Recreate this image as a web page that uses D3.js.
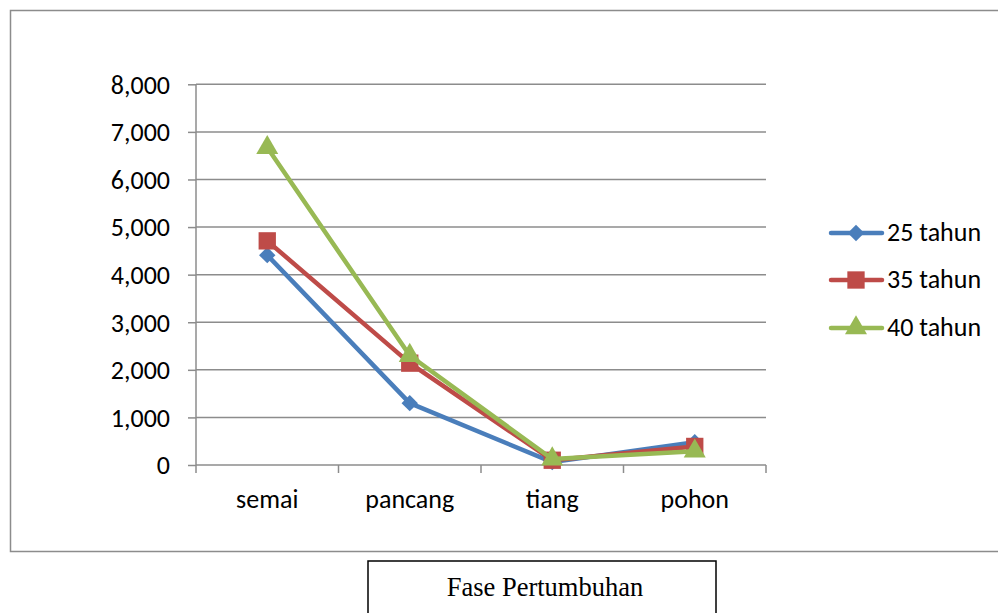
<!DOCTYPE html>
<html><head><meta charset="utf-8">
<script src="https://cdn.jsdelivr.net/npm/d3@7/dist/d3.min.js"></script>
<style>body{margin:0;background:#fff}svg{display:block}</style>
</head><body><svg id="c" width="998" height="613"></svg>
<script>
const categories = ["semai", "pancang", "tiang", "pohon"];
const seriesNames = ["25 tahun", "35 tahun", "40 tahun"];
const v25 = [4410, 1300, 60, 480];
const v35 = [4710, 2140, 100, 390];
const v40 = [6670, 2300, 125, 290];
const yTicks = [0, 1000, 2000, 3000, 4000, 5000, 6000, 7000, 8000];
const colors = ["#4A7EBB", "#BE4B48", "#98B954"];
const xTitle = "Fase Pertumbuhan";

const diamond = { draw(ctx, size) { const r = Math.sqrt(size / 2); ctx.moveTo(0, -r); ctx.lineTo(r, 0); ctx.lineTo(0, r); ctx.lineTo(-r, 0); ctx.closePath(); } };
const markers = [diamond, d3.symbolSquare, d3.symbolTriangle];
const sizes = [135, 300, 210];

const series = [v25, v35, v40].map((vals, i) => ({name: seriesNames[i], vals, color: colors[i], sym: markers[i]}));
const svg = d3.select("#c");
const font = "Carlito, Calibri, 'Open Sans', sans-serif";
const fs = 26;

// outer frame
svg.append("path").attr("d", "M1000,10.5 H10.5 V551.5 H1000").attr("fill", "none").attr("stroke", "#8c8c8c").attr("stroke-width", 1.5);

const L = 196, R = 766, T = 84.3, B = 465;
const x = d3.scaleBand().domain(categories).range([L, R]).padding(0);
const y = d3.scaleLinear().domain([0, 8000]).range([B, T]);

// gridlines
svg.append("g").selectAll("line").data(yTicks.filter(t => t > 0)).join("line")
  .attr("x1", L).attr("x2", R).attr("y1", d => y(d)).attr("y2", d => y(d))
  .attr("stroke", "#8c8c8c").attr("stroke-width", 1.5);

// y axis
const yAxis = svg.append("g").attr("transform", `translate(${L},0)`)
  .call(d3.axisLeft(y).tickValues(yTicks).tickSize(8).tickPadding(18).tickFormat(d3.format(",")));
yAxis.select(".domain").attr("stroke", "#8c8c8c").attr("stroke-width", 1.5).attr("d", `M0,${T}V${B}`);
yAxis.selectAll(".tick line").attr("stroke", "#8c8c8c").attr("stroke-width", 1.5);
yAxis.selectAll("text").attr("font-family", font).attr("font-size", fs).attr("fill", "#000").attr("dy", "0.34em");

// x axis
const xAxis = svg.append("g").attr("transform", `translate(0,${B})`)
  .call(d3.axisBottom(x).tickSize(0).tickPadding(25));
xAxis.select(".domain").attr("stroke", "#8c8c8c").attr("stroke-width", 1.5).attr("d", `M${L},0H${R}`);
xAxis.selectAll("text").attr("font-family", font).attr("font-size", fs).attr("fill", "#000");
const bounds = [...categories.map(c => x(c)), R];
svg.append("g").selectAll("line").data(bounds).join("line")
  .attr("x1", d => d).attr("x2", d => d).attr("y1", B).attr("y2", B + 8)
  .attr("stroke", "#8c8c8c").attr("stroke-width", 1.5);

const cx = c => x(c) + x.bandwidth() / 2;
const line = d3.line().x((d, i) => cx(categories[i])).y(d => y(d));

series.forEach((s, si) => {
  const g = svg.append("g");
  g.append("path").attr("d", line(s.vals)).attr("fill", "none").attr("stroke", s.color)
    .attr("stroke-width", 4.5).attr("stroke-linejoin", "round").attr("stroke-linecap", "round");
  g.selectAll("path.m").data(s.vals).join("path").attr("class", "m")
    .attr("transform", (d, i) => `translate(${cx(categories[i])},${y(d)})`)
    .attr("d", d3.symbol().type(s.sym).size(sizes[si])).attr("fill", s.color);
});

// legend
const legY = [233, 280, 328];
series.forEach((s, i) => {
  const g = svg.append("g").attr("transform", `translate(0,${legY[i]})`);
  g.append("line").attr("x1", 831).attr("x2", 882).attr("y1", 0).attr("y2", 0)
    .attr("stroke", s.color).attr("stroke-width", 4.5).attr("stroke-linecap", "round");
  g.append("path").attr("transform", "translate(856,0)").attr("d", d3.symbol().type(s.sym).size(sizes[i])).attr("fill", s.color);
  g.append("text").attr("x", 887).attr("y", 8).attr("font-family", font).attr("font-size", fs).text(s.name);
});

// x title box
svg.append("rect").attr("x", 368).attr("y", 561).attr("width", 348).attr("height", 60)
  .attr("fill", "#fff").attr("stroke", "#000").attr("stroke-width", 1.5);
svg.append("text").attr("x", 545).attr("y", 596).attr("text-anchor", "middle")
  .attr("font-family", "'Liberation Serif', 'Times New Roman', serif").attr("font-size", 26.5).text(xTitle);
</script></body></html>
